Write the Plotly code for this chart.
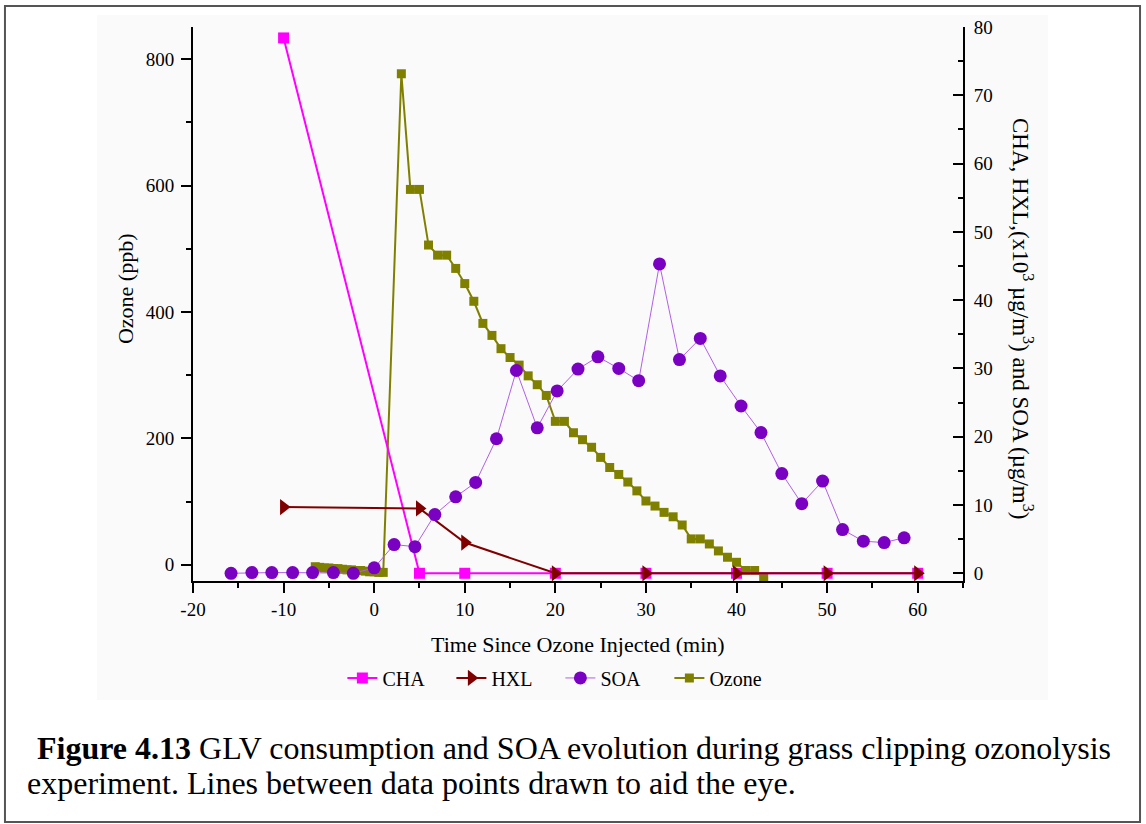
import plotly.graph_objects as go

# ---------------- data ----------------
cha_t = [-10, 5, 10, 20, 30, 40, 50, 60]
cha_v = [78.4, 0, 0, 0, 0, 0, 0, 0]

hxl_t = [-10, 5, 10, 20, 30, 40, 50, 60]
hxl_v = [9.7, 9.5, 4.5, 0, 0, 0, 0, 0]

soa_t = [-15.8, -13.5, -11.3, -9.0, -6.8, -4.5, -2.3, 0, 2.2, 4.5, 6.7, 9.0,
         11.2, 13.5, 15.7, 18.0, 20.2, 22.5, 24.7, 27.0, 29.2, 31.5, 33.7,
         36.0, 38.2, 40.5, 42.7, 45.0, 47.2, 49.5, 51.7, 54.0, 56.3, 58.5]
soa_v = [0.0, 0.1, 0.1, 0.1, 0.1, 0.1, 0.0, 0.8, 4.2, 3.9, 8.6, 11.2,
         13.3, 19.7, 29.7, 21.3, 26.7, 29.9, 31.7, 30.0, 28.2, 45.3, 31.3,
         34.4, 28.9, 24.5, 20.6, 14.6, 10.2, 13.5, 6.4, 4.7, 4.5, 5.2]

ozone_t = [-6.5, -6, -5.5, -5, -4.5, -4, -3.5, -3, -2.5, -2, -1.5, -1, -0.5, 0, 0.5, 1,
           3, 4, 5, 6, 7, 8, 9, 10, 11, 12, 13, 14, 15, 16, 17, 18, 19, 20, 21, 22,
           23, 24, 25, 26, 27, 28, 29, 30, 31, 32, 33, 34, 35, 36, 37, 38, 39, 40,
           41, 42, 43]
ozone_v = [-3, -4, -5, -5, -6, -6, -7, -8, -8, -9, -9, -10, -11, -11, -12, -12,
           777, 594, 594, 506, 490, 490, 469, 445, 417, 382, 363, 342, 328, 316, 299,
           285, 268, 227, 227, 209, 198, 186, 170, 154, 143, 131, 117, 101, 93, 83,
           76, 63, 41, 41, 33, 22, 12, 4, -9, -9, -20]

x_ticks = [-20, -10, 0, 10, 20, 30, 40, 50, 60]
x_ticktext = ["-20", "-10", "0", "10", "20", "30", "40", "50", "60"]
ozone_ticks = [0, 200, 400, 600, 800]
right_ticks = [0, 10, 20, 30, 40, 50, 60, 70, 80]

FONT = "Liberation Serif, Times New Roman, serif"

fig = go.Figure()

fig.add_trace(go.Scatter(
    x=ozone_t, y=ozone_v, name="Ozone", yaxis="y", mode="lines+markers",
    line=dict(color="#808000", width=2),
    marker=dict(symbol="square", size=9, color="#808000"),
    legendrank=4))
fig.add_trace(go.Scatter(
    x=cha_t, y=cha_v, name="CHA", yaxis="y2", mode="lines+markers",
    line=dict(color="#FF00FF", width=2),
    marker=dict(symbol="square", size=11, color="#FF00FF"),
    legendrank=1))
fig.add_trace(go.Scatter(
    x=hxl_t, y=hxl_v, name="HXL", yaxis="y2", mode="lines+markers",
    line=dict(color="#800000", width=2),
    marker=dict(symbol="triangle-right", size=14, color="#800000"),
    legendrank=2))
fig.add_trace(go.Scatter(
    x=soa_t, y=soa_v, name="SOA", yaxis="y2", mode="lines+markers",
    line=dict(color="#B060E8", width=1),
    marker=dict(symbol="circle", size=13, color="#7A00C2"),
    legendrank=3))

axis_common = dict(showgrid=False, zeroline=False, showline=True, linecolor="black",
                   linewidth=2, tickcolor="black", tickwidth=2, ticklen=10,
                   tickfont=dict(family=FONT, size=19, color="black"))

fig.update_layout(
    width=1146, height=824,
    margin=dict(l=193, r=183, t=27, b=243),
    paper_bgcolor="white", plot_bgcolor="rgba(0,0,0,0)",
    font=dict(family=FONT, size=19, color="black"),
    showlegend=True,
    legend=dict(orientation="h", x=0.194, y=-0.175, xanchor="left", yanchor="middle",
                font=dict(family=FONT, size=20, color="black"),
                bgcolor="rgba(0,0,0,0)", traceorder="normal",
                entrywidth=64, entrywidthmode="pixels"),
    xaxis=dict(range=[-20, 65], tickvals=x_ticks, ticktext=x_ticktext, ticks="outside",
               minor=dict(dtick=5, ticks="outside", ticklen=5, tickcolor="black", tickwidth=2),
               **axis_common),
    yaxis=dict(range=[-25.6, 851], tickvals=ozone_ticks, ticks="outside", ticklabelstandoff=3,
               minor=dict(dtick=100, ticks="outside", ticklen=5, tickcolor="black", tickwidth=2),
               **axis_common),
    yaxis2=dict(range=[-1.13, 80], tickvals=right_ticks, overlaying="y", side="right",
                ticks="inside", anchor="x", ticklabelstandoff=5,
                minor=dict(dtick=5, ticks="inside", ticklen=5, tickcolor="black", tickwidth=2),
                **axis_common),
)

# background panel and outer frame
fig.add_shape(type="rect", xref="paper", yref="paper", x0=-0.1247, x1=1.1104,
              y0=-0.2148, y1=1.0217, fillcolor="#fafafa", line=dict(width=0), layer="below")
fig.add_shape(type="rect", xref="paper", yref="paper", x0=-0.2442, x1=1.2299,
              y0=-0.435, y1=1.0379, line=dict(color="#555555", width=2), layer="above")

# axis titles
fig.add_annotation(text="Time Since Ozone Injected (min)", xref="paper", yref="paper",
                   x=0.5, y=-0.1155, showarrow=False, xanchor="center", yanchor="middle",
                   font=dict(family=FONT, size=22, color="black"))
fig.add_annotation(text="Ozone (ppb)", xref="paper", yref="paper", textangle=-90,
                   x=-0.0883, y=0.527, showarrow=False, xanchor="center", yanchor="middle",
                   font=dict(family=FONT, size=22, color="black"))
fig.add_annotation(text="CHA, HXL,(x10<sup>3</sup> µg/m<sup>3</sup>) and SOA (µg/m<sup>3</sup>)",
                   xref="paper", yref="paper", textangle=90,
                   x=1.0766, y=0.473, showarrow=False, xanchor="center", yanchor="middle",
                   font=dict(family=FONT, size=23, color="black"))

# caption
fig.add_annotation(text="<b>Figure 4.13</b> GLV consumption and SOA evolution during grass clipping ozonolysis",
                   xref="paper", yref="paper", x=-0.2052, y=-0.3014, showarrow=False,
                   xanchor="left", yanchor="middle", font=dict(family=FONT, size=32, color="black"))
fig.add_annotation(text="experiment. Lines between data points drawn to aid the eye.",
                   xref="paper", yref="paper", x=-0.2182, y=-0.3646, showarrow=False,
                   xanchor="left", yanchor="middle", font=dict(family=FONT, size=32, color="black"))

fig.write_html("out.html", config={"displayModeBar": False},
               post_script="document.body.style.margin='0';document.body.style.overflow='hidden';")
